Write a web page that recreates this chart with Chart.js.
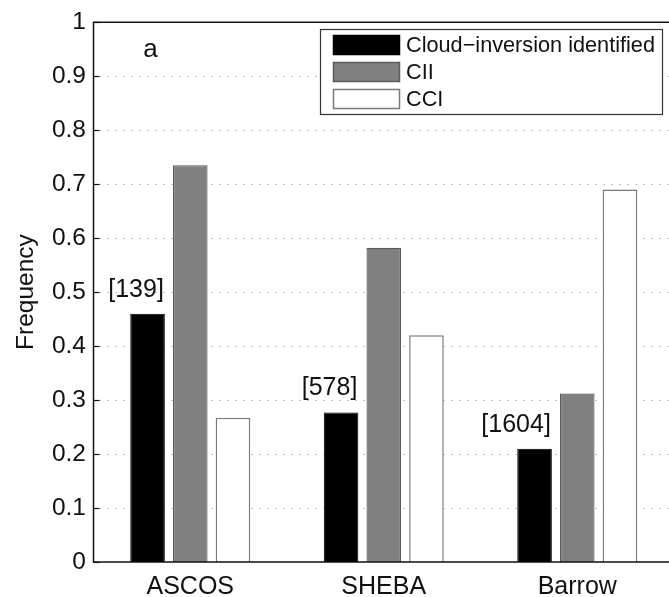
<!DOCTYPE html>
<html>
<head>
<meta charset="utf-8">
<script src="https://cdn.jsdelivr.net/npm/chart.js@4.4.0/dist/chart.umd.min.js"></script>
<style>
  html, body { margin: 0; padding: 0; background: #fff; overflow: hidden; }
  #wrap { position: relative; width: 680px; height: 597px; }
</style>
</head>
<body>
<div id="wrap"><canvas id="c" width="680" height="597"></canvas></div>
<script>
// Sites and frequencies
const sites = ['ASCOS', 'SHEBA', 'Barrow'];
const identified = [0.46, 0.277, 0.21];
const cii = [0.735, 0.582, 0.312];
const cci = [0.267, 0.42, 0.69];
const sampleCounts = ['[139]', '[578]', '[1604]'];
const seriesNames = ['Cloud\u2212inversion identified', 'CII', 'CCI'];
const yTickLabels = ['0', '0.1', '0.2', '0.3', '0.4', '0.5', '0.6', '0.7', '0.8', '0.9', '1'];

const FONT = '"Liberation Sans", Arial, Helvetica, sans-serif';

// Dotted horizontal grid drawn behind the bars
const dottedGrid = {
  id: 'dottedGrid',
  beforeDatasetsDraw(chart) {
    const { ctx, chartArea: a, scales: { y } } = chart;
    ctx.save();
    ctx.strokeStyle = '#b4b4b4';
    ctx.lineWidth = 1.2;
    ctx.setLineDash([1.5, 6.5]);
    y.ticks.forEach(t => {
      if (t.value <= 0 || t.value >= 1) return;
      const py = Math.round(y.getPixelForValue(t.value)) + 0.5;
      ctx.beginPath();
      ctx.moveTo(a.left + 6, py);
      ctx.lineTo(a.right, py);
      ctx.stroke();
    });
    ctx.restore();
  }
};

// Axes box, inward ticks, count labels, panel letter and legend
const overlay = {
  id: 'overlay',
  afterDatasetsDraw(chart) {
    const { ctx, chartArea: a, scales: { y } } = chart;
    ctx.save();
    ctx.setLineDash([]);
    ctx.strokeStyle = '#111';
    ctx.lineWidth = 1.5;
    ctx.beginPath();
    ctx.moveTo(a.right + 5, a.top);
    ctx.lineTo(a.left, a.top);
    ctx.lineTo(a.left, a.bottom);
    ctx.lineTo(a.right + 5, a.bottom);
    ctx.stroke();

    ctx.lineWidth = 1.2;
    y.ticks.forEach(t => {
      const py = Math.round(y.getPixelForValue(t.value)) + 0.5;
      ctx.beginPath();
      ctx.moveTo(a.left, py);
      ctx.lineTo(a.left + 6, py);
      ctx.stroke();
    });

    // sample counts above the first series
    const meta = chart.getDatasetMeta(0);
    ctx.fillStyle = '#111';
    ctx.font = '25px ' + FONT;
    ctx.textAlign = 'right';
    ctx.textBaseline = 'middle';
    meta.data.forEach((bar, i) => {
      ctx.fillText(sampleCounts[i], bar.x + bar.width / 2 - 1, bar.y - 24);
    });

    // panel letter
    ctx.textAlign = 'center';
    ctx.font = '26px ' + FONT;
    ctx.fillText('a', 150.5, 49.5);

    // legend
    const lx = 320, ly = 29, lw = 342, lh = 85;
    ctx.fillStyle = '#fff';
    ctx.fillRect(lx, ly, lw, lh);
    ctx.strokeStyle = '#333';
    ctx.lineWidth = 1.2;
    ctx.strokeRect(lx + 0.5, ly + 0.5, lw, lh);
    ctx.font = '21.7px ' + FONT;
    ctx.textAlign = 'left';
    chart.data.datasets.forEach((ds, i) => {
      const cy = ly + 16 + i * 27;
      ctx.fillStyle = ds.backgroundColor;
      ctx.fillRect(lx + 13, cy - 10, 67, 20);
      ctx.strokeStyle = ds.borderColor;
      ctx.lineWidth = 1.5;
      ctx.strokeRect(lx + 13.5, cy - 9.5, 66, 19);
      ctx.fillStyle = '#111';
      ctx.fillText(ds.label, lx + 86, cy + 1);
    });
    ctx.restore();
  }
};

new Chart(document.getElementById('c'), {
  type: 'bar',
  data: {
    labels: sites,
    datasets: [
      { label: seriesNames[0], data: identified, backgroundColor: '#000000', borderColor: '#000000', borderWidth: 1 },
      { label: seriesNames[1], data: cii, backgroundColor: '#808080', borderColor: '#5a5a5a', borderWidth: 1.2 },
      { label: seriesNames[2], data: cci, backgroundColor: '#ffffff', borderColor: '#7a7a7a', borderWidth: 1.5 }
    ]
  },
  options: {
    responsive: false,
    animation: false,
    devicePixelRatio: 1,
    layout: { padding: { top: 17, right: 6, left: 0, bottom: 0 } },
    datasets: { bar: { categoryPercentage: 0.662, barPercentage: 0.81 } },
    plugins: { legend: { display: false }, tooltip: { enabled: false } },
    scales: {
      x: {
        grid: { display: false, drawTicks: false, tickLength: 0 },
        border: { display: false },
        ticks: { color: '#111', font: { family: FONT, size: 25 }, padding: 10 },
        afterFit(s) { s.height = 35; }
      },
      y: {
        min: 0, max: 1,
        grid: { display: false, drawTicks: false, tickLength: 0 },
        border: { display: false },
        ticks: {
          stepSize: 0.1,
          color: '#111',
          font: { family: FONT, size: 24.5 },
          padding: 7.5,
          callback: (v, i) => yTickLabels[i]
        },
        title: {
          display: true, text: 'Frequency', color: '#111',
          font: { family: FONT, size: 24.5 }, padding: { top: 12, bottom: 0 }
        },
        afterFit(s) { s.width = 93.5; }
      }
    }
  },
  plugins: [dottedGrid, overlay]
});
</script>
</body>
</html>
